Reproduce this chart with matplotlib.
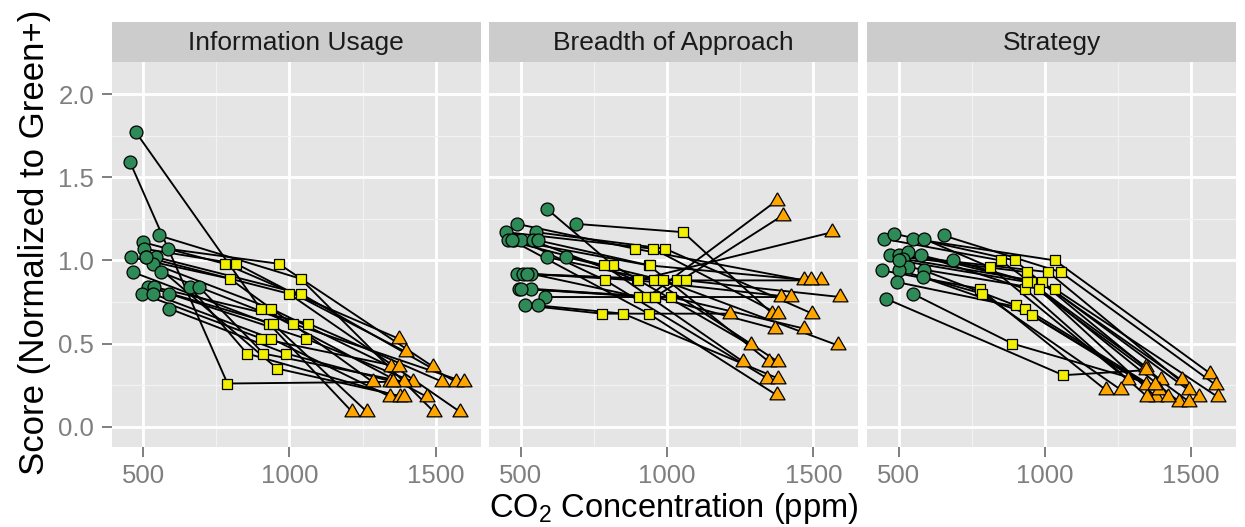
import matplotlib.pyplot as plt
import numpy as np

plt.rcParams['font.family'] = ['Liberation Sans', 'DejaVu Sans']
plt.rcParams['mathtext.fontset'] = 'custom'
plt.rcParams['mathtext.rm'] = 'Liberation Sans'
plt.rcParams['mathtext.it'] = 'Liberation Sans:italic'

# facet titles
panel_titles = ["Information Usage", "Breadth of Approach", "Strategy"]

# Information Usage: one entry per subject (green, yellow, orange conditions)
info_green_ppm = [475, 455, 554, 498, 585, 503, 457, 509, 543, 534, 464, 559, 517, 537, 494, 532, 589, 659, 691, 589, 510]
info_green_score = [1.77, 1.59, 1.15, 1.11, 1.07, 1.07, 1.02, 1.02, 1.02, 0.98, 0.93, 0.93, 0.84, 0.84, 0.80, 0.80, 0.80, 0.84, 0.84, 0.71, 1.02]
info_yellow_ppm = [901, 788, 1038, 778, 963, 818, 796, 998, 1038, 938, 930, 1011, 943, 1065, 904, 938, 1055, 855, 911, 989, 958]
info_yellow_score = [0.71, 0.26, 0.89, 0.98, 0.98, 0.98, 0.89, 0.80, 0.80, 0.71, 0.62, 0.62, 0.62, 0.62, 0.53, 0.53, 0.53, 0.44, 0.44, 0.44, 0.35]
info_orange_ppm = [1470, 1345, 1494, 1373, 1492, 1398, 1284, 1583, 1569, 1347, 1214, 1597, 1265, 1523, 1375, 1345, 1424, 1379, 1393, 1355, 1390]
info_orange_score = [0.18, 0.27, 0.09, 0.53, 0.36, 0.45, 0.27, 0.09, 0.27, 0.36, 0.09, 0.27, 0.09, 0.27, 0.36, 0.18, 0.27, 0.18, 0.27, 0.27, 0.18]

# Breadth of Approach
breadth_green_ppm = [589, 688, 486, 449, 551, 455, 475, 500, 540, 589, 656, 486, 506, 534, 494, 534, 582, 514, 557, 470, 520, 500, 560]
breadth_green_score = [1.31, 1.22, 1.22, 1.17, 1.17, 1.12, 1.12, 1.12, 1.12, 1.02, 1.02, 0.92, 0.92, 0.92, 0.83, 0.83, 0.78, 0.73, 0.73, 1.12, 0.92, 0.83, 1.12]
breadth_yellow_ppm = [816, 1055, 891, 953, 994, 785, 938, 789, 896, 956, 987, 1033, 1065, 905, 933, 958, 1013, 777, 850, 937, 900, 960, 940]
breadth_yellow_score = [0.97, 1.17, 1.07, 1.07, 1.07, 0.97, 0.97, 0.88, 0.88, 0.88, 0.88, 0.88, 0.88, 0.78, 0.78, 0.78, 0.78, 0.68, 0.68, 0.68, 0.88, 0.78, 0.97]
breadth_orange_ppm = [1286, 1360, 1469, 1378, 1497, 1261, 1349, 1343, 1565, 1380, 1583, 1526, 1592, 1391, 1375, 1395, 1469, 1215, 1380, 1375, 1423, 1368, 1491]
breadth_orange_score = [0.49, 0.68, 0.88, 0.68, 0.68, 0.39, 0.39, 0.29, 1.17, 0.39, 0.49, 0.88, 0.78, 0.78, 1.36, 1.27, 0.59, 0.68, 0.29, 0.19, 0.78, 0.59, 0.88]

# Strategy
strat_green_ppm = [449, 486, 551, 586, 654, 471, 500, 532, 514, 578, 685, 532, 445, 502, 586, 494, 582, 548, 457, 500]
strat_green_score = [1.13, 1.16, 1.13, 1.13, 1.15, 1.03, 1.03, 1.05, 1.01, 1.03, 1.00, 0.96, 0.94, 0.94, 0.94, 0.87, 0.90, 0.80, 0.77, 1.00]
strat_yellow_ppm = [849, 897, 1035, 812, 1054, 938, 1012, 954, 991, 932, 1034, 980, 777, 786, 900, 934, 957, 889, 1063, 940]
strat_yellow_score = [1.00, 1.00, 1.00, 0.96, 0.93, 0.93, 0.93, 0.87, 0.87, 0.83, 0.83, 0.83, 0.83, 0.80, 0.73, 0.71, 0.67, 0.50, 0.31, 0.87]
strat_orange_ppm = [1346, 1397, 1566, 1285, 1586, 1468, 1529, 1380, 1492, 1351, 1591, 1460, 1209, 1262, 1346, 1389, 1420, 1378, 1346, 1494]
strat_orange_score = [0.36, 0.28, 0.32, 0.28, 0.25, 0.28, 0.18, 0.18, 0.22, 0.18, 0.18, 0.15, 0.22, 0.22, 0.25, 0.22, 0.18, 0.25, 0.34, 0.15]

x_ticks = [500, 1000, 1500]
y_ticks = [0.0, 0.5, 1.0, 1.5, 2.0]
y_tick_labels = ["0.0", "0.5", "1.0", "1.5", "2.0"]

panels = [
    (info_green_ppm, info_green_score, info_yellow_ppm, info_yellow_score, info_orange_ppm, info_orange_score),
    (breadth_green_ppm, breadth_green_score, breadth_yellow_ppm, breadth_yellow_score, breadth_orange_ppm, breadth_orange_score),
    (strat_green_ppm, strat_green_score, strat_yellow_ppm, strat_yellow_score, strat_orange_ppm, strat_orange_score),
]

W, H = 1245, 527
fig = plt.figure(figsize=(W / 100, H / 100), dpi=100)

# layout in pixels (ggplot facet_wrap look)
panel_left = [111.7, 489.3, 867.0]
panel_w = 369.0
panel_top, panel_bottom = 61.7, 446.7
strip_top = 21.7

# equilateral triangle marker like ggplot's shape 24
tri = [(0, 1), (-0.866, -0.5), (0.866, -0.5), (0, 1)]

for i, (left, title, data) in enumerate(zip(panel_left, panel_titles, panels)):
    gx, gy, yx, yy, ox, oy = data
    ax = fig.add_axes([left / W, 1 - panel_bottom / H, panel_w / W, (panel_bottom - panel_top) / H])
    ax.set_facecolor('#E5E5E5')
    for s in ax.spines.values():
        s.set_visible(False)

    # one line per subject
    for k in range(len(gx)):
        ax.plot([gx[k], yx[k], ox[k]], [gy[k], yy[k], oy[k]], color='black', lw=1.35, zorder=2)

    ax.plot(gx, gy, 'o', ms=9.3, mfc='#2E8B57', mec='black', mew=0.9, ls='none', zorder=3)
    ax.plot(yx, yy, 's', ms=7.8, mfc='#F0F000', mec='black', mew=0.9, ls='none', zorder=3)
    ax.plot(ox, oy, marker=tri, ms=12.5, mfc='#FFA500', mec='black', mew=0.9, ls='none', zorder=3)

    ax.set_xlim(392, 1654)
    ax.set_ylim(-0.12, 2.195)
    ax.set_xticks(x_ticks)
    ax.set_xticks([750, 1250], minor=True)
    ax.set_yticks(y_ticks)
    ax.set_yticks([0.25, 0.75, 1.25, 1.75], minor=True)
    ax.set_yticklabels(y_tick_labels)
    ax.set_axisbelow(True)
    ax.grid(which='major', color='white', lw=2.0)
    ax.grid(which='minor', color='#F2F2F2', lw=0.9)
    ax.tick_params(which='major', length=7, width=1.4, color='#7F7F7F', labelcolor='#7F7F7F',
                   labelsize=18.5, pad=5.5)
    ax.tick_params(which='minor', length=0)
    if i > 0:
        ax.tick_params(axis='y', which='both', left=False, labelleft=False)

    # strip on top
    sax = fig.add_axes([left / W, 1 - panel_top / H, panel_w / W, (panel_top - strip_top) / H])
    sax.set_facecolor('#CCCCCC')
    sax.set_xticks([])
    sax.set_yticks([])
    for s in sax.spines.values():
        s.set_visible(False)
    sax.text(0.5, 0.47, title, ha='center', va='center', fontsize=19, color='#1A1A1A',
             transform=sax.transAxes)

fig.text((panel_left[0] + panel_left[2] + panel_w) / 2 / W, 1 - 517 / H,
         r'CO$_{\mathrm{2}}$ Concentration (ppm)', ha='center', va='baseline', fontsize=23.5, color='black')
fig.text(35 / W, 1 - 242 / H, 'Score (Normalized to Green+)', rotation=90, ha='center', va='center',
         fontsize=25, color='black')

fig.savefig('out.png', dpi=100)
